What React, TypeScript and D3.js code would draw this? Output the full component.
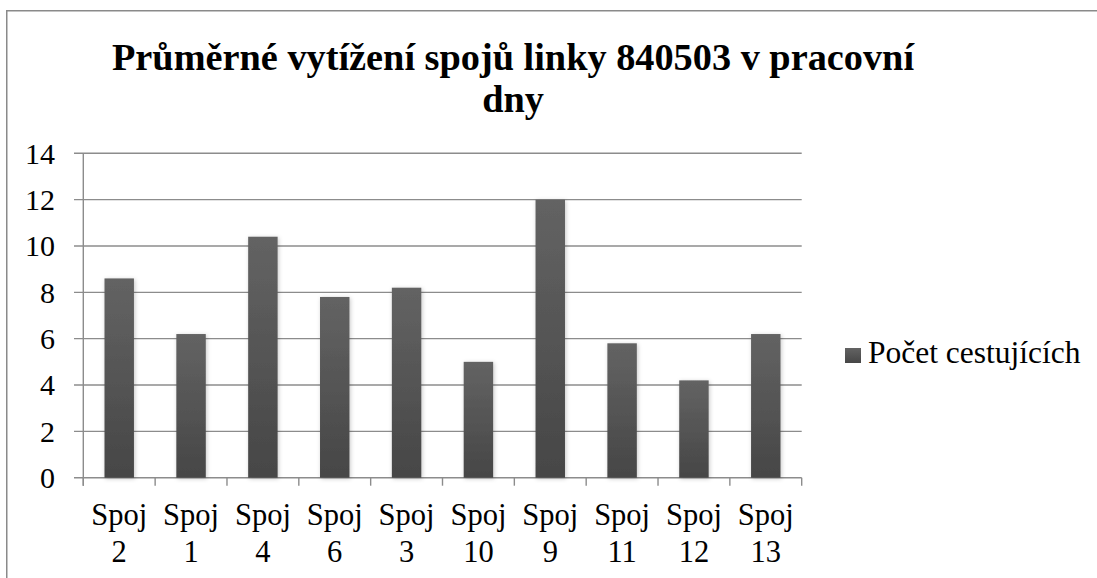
import React from "react";
import * as d3 from "d3";

const titleLines = ["Průměrné vytížení spojů linky 840503 v pracovní", "dny"];
const categories = ["Spoj 2", "Spoj 1", "Spoj 4", "Spoj 6", "Spoj 3", "Spoj 10", "Spoj 9", "Spoj 11", "Spoj 12", "Spoj 13"];
const values = [8.6, 6.2, 10.4, 7.8, 8.2, 5.0, 12.0, 5.8, 4.2, 6.2];
const yTicks = [0, 2, 4, 6, 8, 10, 12, 14];
const seriesName = "Počet cestujících";

const W = 1097;
const H = 578;
const FONT = '"Liberation Serif", "Times New Roman", serif';

export default function App() {
  const x0 = 83.3, x1 = 801.7, yBottom = 477.7, yTop = 153.3;
  const x = d3.scaleBand().domain(categories).range([x0, x1]).paddingInner(0.59).paddingOuter(0.295);
  const y = d3.scaleLinear().domain([0, 14]).range([yBottom, yTop]);
  const step = (x1 - x0) / categories.length;
  const grid = "#8c8c8c";
  const ts = { fontFamily: FONT };

  return (
    <div style={{ position: "absolute", left: 0, top: 0, width: W, height: H, background: "#fff" }}>
      <svg width={W} height={H} style={{ display: "block" }}>
        <defs>
          <linearGradient id="barGrad" x1="0" y1="0" x2="0" y2="1">
            <stop offset="0" stopColor="#636363" />
            <stop offset="1" stopColor="#464646" />
          </linearGradient>
          <filter id="shadow" x="-30%" y="-10%" width="160%" height="120%">
            <feDropShadow dx="1" dy="1" stdDeviation="2" floodColor="#000" floodOpacity="0.22" />
          </filter>
        </defs>
        <path d={`M6.75,${H + 5}V10.75H${W + 5}`} fill="none" stroke="#8a8a8a" strokeWidth={1.5} />

        {titleLines.map((t, i) => (
          <text key={i} x={513} y={70 + i * 42} textAnchor="middle" fontWeight="bold" fontSize={38.3} fill="#000" style={ts}>
            {t}
          </text>
        ))}

        {yTicks.map((t) => (
          <g key={t}>
            <line x1={74} x2={x1} y1={y(t)} y2={y(t)} stroke={grid} strokeWidth={1.4} />
            <text x={55} y={y(t)} dy="0.34em" textAnchor="end" fontSize={30} fill="#000" style={ts}>
              {String(t)}
            </text>
          </g>
        ))}

        <line x1={x0} x2={x0} y1={yTop} y2={yBottom + 8} stroke={grid} strokeWidth={1.4} />
        {d3.range(categories.length + 1).map((i) => (
          <line key={i} x1={x0 + i * step} x2={x0 + i * step} y1={yBottom} y2={yBottom + 8} stroke={grid} strokeWidth={1.4} />
        ))}

        {categories.map((c, i) => (
          <rect
            key={c}
            x={x(c)}
            y={y(values[i])}
            width={x.bandwidth()}
            height={yBottom - y(values[i])}
            fill="url(#barGrad)"
            filter="url(#shadow)"
          />
        ))}

        {categories.map((c) => {
          const cx = (x(c) as number) + x.bandwidth() / 2;
          const [a, b] = c.split(" ");
          return (
            <g key={c} style={ts} fill="#000">
              <text x={cx} y={525} textAnchor="middle" fontSize={30.5}>{a}</text>
              <text x={cx} y={562} textAnchor="middle" fontSize={30.5}>{b}</text>
            </g>
          );
        })}

        <rect x={845} y={348} width={16} height={15} fill="url(#barGrad)" />
        <text x={868} y={363} fontSize={31.5} fill="#000" style={ts}>
          {seriesName}
        </text>
      </svg>
    </div>
  );
}
